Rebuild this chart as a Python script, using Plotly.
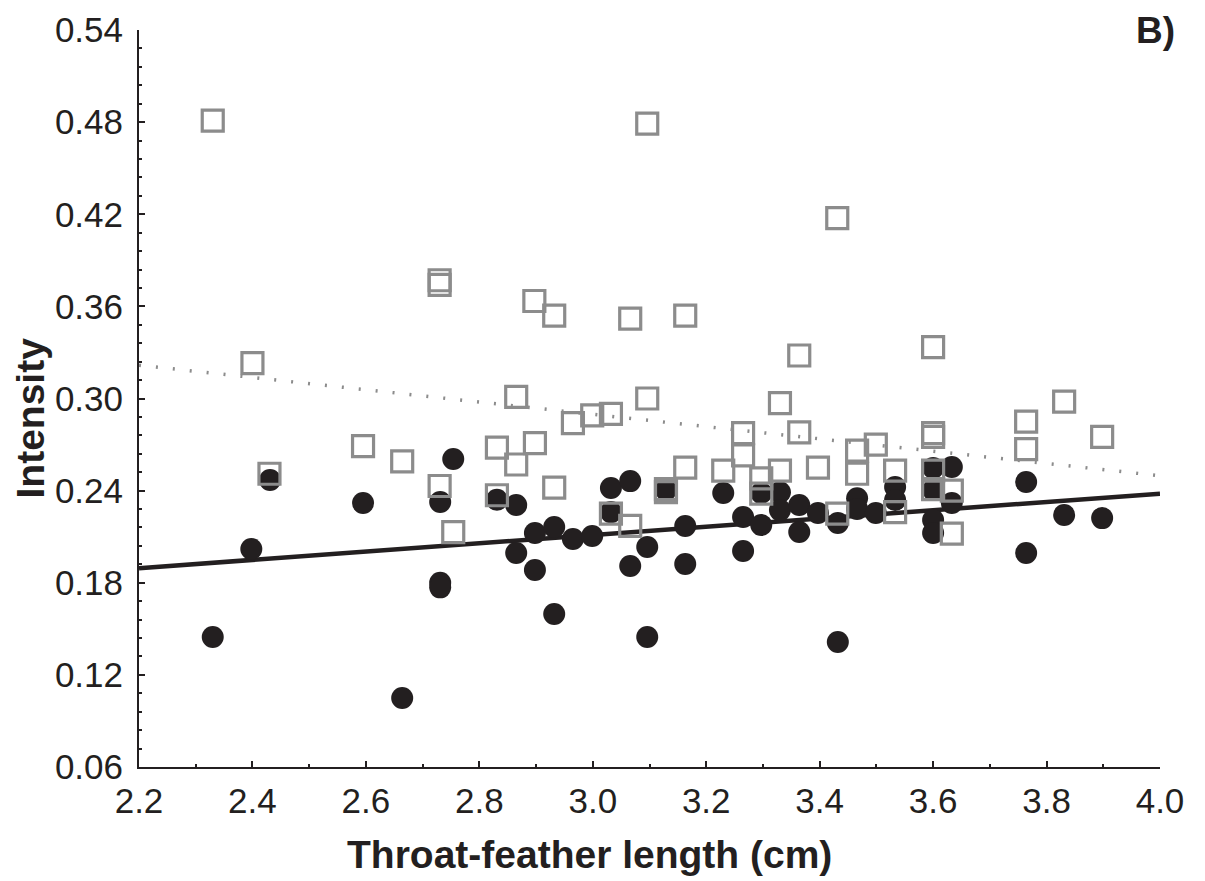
import plotly.graph_objects as go

# Open squares (grey group)
sq_x = [2.33, 2.40, 2.43, 2.595, 2.664, 2.73, 2.73, 2.73, 2.754, 2.831, 2.831, 2.865, 2.865,
        2.897, 2.898, 2.932, 2.932, 2.965, 2.999, 3.032, 3.032, 3.066, 3.066, 3.096, 3.096,
        3.129, 3.129, 3.163, 3.163, 3.230, 3.265, 3.265, 3.297, 3.297, 3.330, 3.330, 3.364,
        3.364, 3.397, 3.431, 3.431, 3.466, 3.466, 3.499, 3.533, 3.533, 3.600, 3.600, 3.600,
        3.600, 3.600, 3.633, 3.633, 3.764, 3.764, 3.831, 3.898]
sq_y = [0.481, 0.323, 0.251, 0.269, 0.259, 0.377, 0.374, 0.243, 0.213, 0.268, 0.237, 0.301, 0.257,
        0.3635, 0.271, 0.354, 0.242, 0.284, 0.289, 0.290, 0.225, 0.352, 0.217, 0.479, 0.300,
        0.241, 0.239, 0.354, 0.255, 0.253, 0.2775, 0.263, 0.248, 0.238, 0.297, 0.253, 0.328,
        0.278, 0.255, 0.4175, 0.225, 0.266, 0.251, 0.270, 0.253, 0.226, 0.3335, 0.2775, 0.275,
        0.253, 0.241, 0.240, 0.212, 0.285, 0.267, 0.298, 0.275]

# Filled circles (black group)
ci_x = [2.330, 2.398, 2.431, 2.595, 2.664, 2.731, 2.731, 2.731, 2.754, 2.831, 2.865, 2.865,
        2.898, 2.898, 2.932, 2.932, 2.965, 2.999, 3.032, 3.032, 3.066, 3.066, 3.096, 3.096,
        3.129, 3.163, 3.163, 3.230, 3.265, 3.265, 3.297, 3.297, 3.330, 3.330, 3.364, 3.364,
        3.397, 3.432, 3.432, 3.466, 3.466, 3.499, 3.533, 3.533, 3.600, 3.600, 3.600, 3.600,
        3.633, 3.633, 3.764, 3.764, 3.831, 3.898]
ci_y = [0.1447, 0.2020, 0.2469, 0.232, 0.105, 0.2326, 0.180, 0.177, 0.2606, 0.234, 0.2306, 0.1994,
        0.2124, 0.1883, 0.2163, 0.1596, 0.2085, 0.2104, 0.2417, 0.226, 0.2462, 0.1909, 0.2033, 0.1447,
        0.2404, 0.2169, 0.1922, 0.2384, 0.2228, 0.2007, 0.2384, 0.2176, 0.239, 0.2273, 0.2306, 0.213,
        0.2254, 0.2189, 0.1414, 0.235, 0.228, 0.2254, 0.2423, 0.2339, 0.2547, 0.2404, 0.2208, 0.2124,
        0.2554, 0.2319, 0.2456, 0.1994, 0.2241, 0.2221]

# Regression lines (end points)
fit_x = [2.2, 4.0]
fit_solid_y = [0.1895, 0.238]
fit_dotted_y = [0.3217, 0.2497]

x_ticks = [2.2, 2.4, 2.6, 2.8, 3.0, 3.2, 3.4, 3.6, 3.8, 4.0]
x_ticktext = ["2.2", "2.4", "2.6", "2.8", "3.0", "3.2", "3.4", "3.6", "3.8", "4.0"]
y_ticks = [0.06, 0.12, 0.18, 0.24, 0.30, 0.36, 0.42, 0.48, 0.54]
y_ticktext = ["0.06", "0.12", "0.18", "0.24", "0.30", "0.36", "0.42", "0.48", "0.54"]

INK = "#231f20"
GREY = "#8c8c8c"
FONT = "Liberation Sans, Arial, sans-serif"

fig = go.Figure()
fig.add_trace(go.Scatter(x=fit_x, y=fit_dotted_y, mode="lines",
                         line=dict(color=GREY, width=3.5, dash="2px,15px"), hoverinfo="skip"))
fig.add_trace(go.Scatter(x=fit_x, y=fit_solid_y, mode="lines",
                         line=dict(color=INK, width=4.5), hoverinfo="skip"))
fig.add_trace(go.Scatter(x=ci_x, y=ci_y, mode="markers",
                         marker=dict(symbol="circle", size=22, color=INK, line=dict(width=0))))
fig.add_trace(go.Scatter(x=sq_x, y=sq_y, mode="markers",
                         marker=dict(symbol="square-open", size=21, color=GREY,
                                     line=dict(width=3.2, color=GREY))))

axis_common = dict(
    showgrid=False, zeroline=False, showline=True, linecolor=INK, linewidth=2,
    ticks="inside", ticklen=6, tickwidth=1.5, tickcolor=INK, automargin=False,
    tickfont=dict(family=FONT, size=35, color=INK),
)
fig.update_xaxes(range=[2.2, 4.0], tickmode="array", tickvals=x_ticks, ticktext=x_ticktext,
                 minor=dict(dtick=0.1, tick0=2.2, ticks="inside", ticklen=3, tickwidth=1.5, tickcolor=INK),
                 ticklabelstandoff=2, **axis_common)
fig.update_yaxes(range=[0.06, 0.54], tickmode="array", tickvals=y_ticks, ticktext=y_ticktext,
                 minor=dict(dtick=0.012, tick0=0.06, ticks="inside", ticklen=3, tickwidth=1.5, tickcolor=INK),
                 ticklabelstandoff=7, **axis_common)

# Figure is offset by the page's 8px body margin, so sizes/margins compensate for it.
fig.add_annotation(text="<b>Throat-feather length (cm)</b>", xref="paper", yref="paper",
                   x=0.4417, y=-0.1194, showarrow=False, xanchor="center", yanchor="middle",
                   font=dict(family=FONT, size=39, color=INK))
fig.add_annotation(text="<b>Intensity</b>", xref="paper", yref="paper",
                   x=-0.1063, y=0.4735, showarrow=False, xanchor="center", yanchor="middle",
                   textangle=-90, borderpad=0, font=dict(family=FONT, size=39, color=INK))
fig.add_annotation(text="<b>B)</b>", xref="paper", yref="paper",
                   x=0.996, y=1.0285, showarrow=False, xanchor="center", yanchor="top",
                   borderpad=0, font=dict(family=FONT, size=37, color=INK))

fig.update_layout(
    width=1197, height=873, showlegend=False,
    paper_bgcolor="white", plot_bgcolor="white",
    margin=dict(l=131, r=45, t=22, b=114, autoexpand=False),
)
fig.write_html("out.html")
